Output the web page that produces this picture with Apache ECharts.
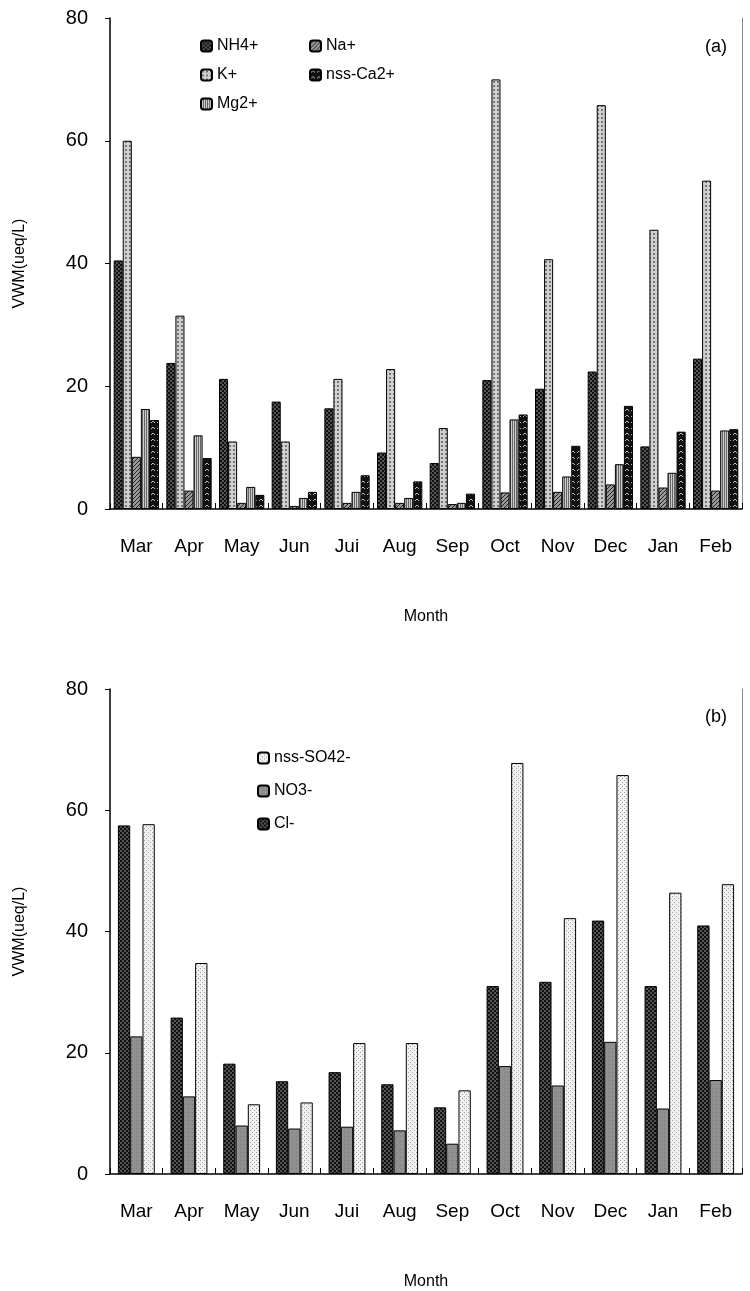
<!DOCTYPE html>
<html><head><meta charset="utf-8">
<script src="https://cdn.jsdelivr.net/npm/echarts@6/dist/echarts.min.js"></script>
<style>html,body{margin:0;padding:0;background:#fff}#c{width:750px;height:1291px}</style>
</head><body><div id="c"></div>
<script>
const months = ['Mar','Apr','May','Jun','Jui','Aug','Sep','Oct','Nov','Dec','Jan','Feb'];
const yTicks = [0,20,40,60,80];
// panel (a), bars in drawing order
const nh4 = [40.5,23.8,21.2,17.5,16.4,9.2,7.5,21,19.6,22.4,10.2,24.5];
const kPlus = [60,31.5,11,11,21.2,22.8,13.2,70,40.7,65.8,45.5,53.5];
const naPlus = [8.5,3,1,0.5,1,1,0.8,2.7,2.8,4,3.5,3];
const mg = [16.3,12,3.6,1.8,2.8,1.8,1,14.6,5.3,7.3,5.9,12.8];
const nssCa = [14.5,8.3,2.3,2.8,5.5,4.5,2.5,15.4,10.3,16.8,12.6,13];
// panel (b)
const cl = [57.5,25.8,18.2,15.3,16.8,14.8,11,31,31.7,41.8,31,41];
const no3 = [22.7,12.8,8,7.5,7.8,7.2,5,17.8,14.6,21.8,10.8,15.5];
const so4 = [57.7,34.8,11.5,11.8,21.6,21.6,13.8,67.8,42.2,65.8,46.4,47.8];

function pat(type){
  const c=document.createElement('canvas');c.width=4;c.height=4;const g=c.getContext('2d');
  if(type==='check'){g.fillStyle='#555';g.fillRect(0,0,4,4);g.fillStyle='#111';g.fillRect(0,0,2,2);g.fillRect(2,2,2,2);}
  else if(type==='cross'){g.fillStyle='#d0d0d0';g.fillRect(0,0,4,4);g.fillStyle='#777';g.fillRect(1,1,2,2);}
  else if(type==='diag'){g.fillStyle='#999';g.fillRect(0,0,4,4);g.fillStyle='#222';for(let i=0;i<4;i++)g.fillRect(3-i,i,1,1);}
  else if(type==='vert'){g.fillStyle='#ccc';g.fillRect(0,0,4,4);g.fillStyle='#666';g.fillRect(0,0,1,4);g.fillRect(2,0,1,4);}
  else if(type==='zig'){c.width=6;c.height=6;g.fillStyle='#111';g.fillRect(0,0,6,6);g.fillStyle='#bbb';g.fillRect(2,1,2,1);g.fillRect(1,2,1,1);g.fillRect(4,2,1,1);}
  else if(type==='dot'){g.fillStyle='#f2f2f2';g.fillRect(0,0,4,4);g.fillStyle='#999';g.fillRect(0,0,1,1);g.fillRect(2,2,1,1);}
  else if(type==='gray'){g.fillStyle='#909090';g.fillRect(0,0,4,4);g.fillStyle='#7a7a7a';g.fillRect(0,0,1,1);}
  return {image:c,repeat:'repeat'};
}
const F='Liberation Sans, Arial, sans-serif';
const ax = (gi)=>({type:'value',gridIndex:gi,min:0,max:80,interval:20,
  axisLine:{show:true,lineStyle:{color:'#000',width:1.5}},axisTick:{show:true,length:5,lineStyle:{color:'#000'}},
  splitLine:{show:false},axisLabel:{fontSize:20,color:'#000',fontFamily:F,margin:22},
  name:'VWM(ueq/L)',nameLocation:'middle',nameGap:82,nameTextStyle:{fontSize:16,color:'#000',fontFamily:F}});
const axR = (gi)=>({type:'value',gridIndex:gi,min:0,max:80,interval:20,position:'right',
  axisLine:{show:true,lineStyle:{color:'#888',width:1}},axisTick:{show:false},axisLabel:{show:false},splitLine:{show:false}});
const xa = (gi)=>({type:'category',gridIndex:gi,data:months,
  axisLine:{lineStyle:{color:'#000',width:1.5}},axisTick:{show:true,inside:true,length:6,lineStyle:{color:'#000'}},
  axisLabel:{fontSize:19,color:'#000',fontFamily:F,margin:28},
  name:'Month',nameLocation:'middle',nameGap:100,nameTextStyle:{fontSize:16,color:'#000',fontFamily:F}});
const bs = {borderColor:'#000',borderWidth:1};
function bar(name,data,p,gi,gap){return {name,type:'bar',xAxisIndex:gi,yAxisIndex:gi*2,data,barCategoryGap:gap,barGap:'0%',
  itemStyle:Object.assign({color:pat(p)},bs)};}
const lt={fontSize:16,color:'#000',fontFamily:F};
const chart=echarts.init(document.getElementById('c'));
chart.setOption({
  animation:false,
  grid:[{left:110,right:8,top:18,height:491},{left:110,right:8,top:689,height:488}],
  xAxis:[xa(0),xa(1)],
  yAxis:[ax(0),axR(0),ax(1),axR(1)].map((a,i)=>Object.assign(a,{gridIndex:i<2?0:1})),
  legend:[
    {data:['NH4+','K+','Mg2+'],orient:'vertical',left:195,top:33,itemWidth:11,itemHeight:11,itemGap:13,textStyle:lt},
    {data:['Na+','nss-Ca2+'],orient:'vertical',left:304,top:33,itemWidth:11,itemHeight:11,itemGap:13,textStyle:lt},
    {data:['nss-SO42-','NO3-','Cl-'],orient:'vertical',left:252,top:745,itemWidth:11,itemHeight:11,itemGap:17,textStyle:lt}
  ],
  graphic:[
    {type:'text',left:705,top:38,style:{text:'(a)',font:'18px '+F,fill:'#000'}},
    {type:'text',left:705,top:708,style:{text:'(b)',font:'18px '+F,fill:'#000'}}
  ],
  series:[
    bar('NH4+',nh4,'check',0,'14%'),
    bar('K+',kPlus,'cross',0,'14%'),
    bar('Na+',naPlus,'diag',0,'14%'),
    bar('Mg2+',mg,'vert',0,'14%'),
    bar('nss-Ca2+',nssCa,'zig',0,'14%'),
    bar('Cl-',cl,'check',1,'30%'),
    bar('NO3-',no3,'gray',1,'30%'),
    bar('nss-SO42-',so4,'dot',1,'30%')
  ]
});
</script></body></html>
